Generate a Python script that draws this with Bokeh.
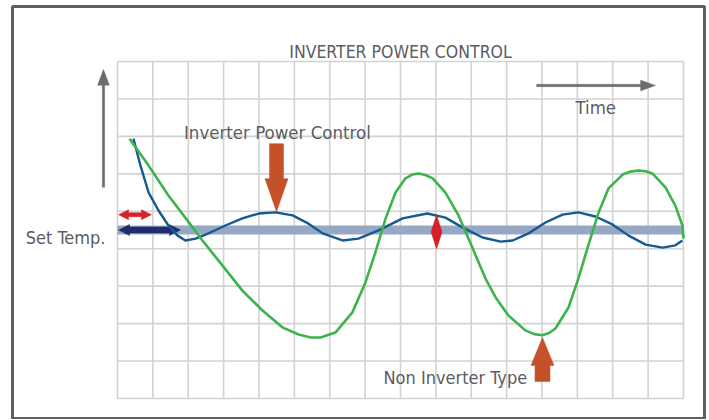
from bokeh.plotting import figure
from bokeh.embed import file_html
from bokeh.resources import INLINE
from bokeh.core.properties import value

# ---------------- data ----------------
grid_cols = list(range(0, 17))      # time grid columns
grid_rows = list(range(0, 10))      # temperature grid rows
set_temp = 4.5                      # set temperature level

inverter_x = [0.45, 0.65, 0.88, 1.16, 1.44, 1.70, 1.92, 2.21, 2.57, 3.05, 3.53, 3.99,
              4.47, 4.95, 5.40, 5.80, 6.36, 6.81, 7.38, 8.06, 8.76, 9.27, 9.75, 10.32,
              10.83, 11.17, 11.62, 12.10, 12.58, 13.03, 13.51, 13.99, 14.45, 14.93,
              15.41, 15.77, 15.97]
inverter_y = [6.94, 6.22, 5.50, 5.02, 4.62, 4.35, 4.22, 4.27, 4.41, 4.62, 4.81, 4.94,
              4.97, 4.89, 4.67, 4.41, 4.22, 4.27, 4.49, 4.81, 4.94, 4.83, 4.57, 4.30,
              4.19, 4.22, 4.41, 4.70, 4.91, 4.97, 4.86, 4.65, 4.35, 4.11,
              4.03, 4.09, 4.22]

non_inverter_x = [0.34, 0.88, 1.44, 1.98, 2.40, 2.97, 3.53, 4.10, 4.66, 5.12, 5.46, 5.74,
                  6.16, 6.64, 7.01, 7.29, 7.58, 7.86, 8.14, 8.33, 8.51, 8.70, 8.91, 9.27,
                  9.64, 10.04, 10.40, 10.69, 11.05, 11.53, 11.78, 12.01, 12.20, 12.38,
                  12.75, 13.03, 13.31, 13.60, 13.88, 14.28, 14.50, 14.73, 14.93, 15.12,
                  15.49, 15.77, 15.97, 16.00]
non_inverter_y = [6.94, 6.22, 5.42, 4.75, 4.22, 3.55, 2.88, 2.35, 1.90, 1.71, 1.63, 1.63,
                  1.76, 2.30, 3.10, 3.90, 4.81, 5.50, 5.88, 5.98, 6.01, 5.97, 5.88, 5.50,
                  4.89, 4.01, 3.21, 2.70, 2.22, 1.82, 1.72, 1.69, 1.75, 1.87,
                  2.43, 3.21, 4.09, 4.97, 5.61, 5.98, 6.06, 6.09, 6.07, 6.01,
                  5.64, 5.15, 4.62, 4.27]

labels = ["INVERTER POWER CONTROL", "Inverter Power Control", "Time",
          "Set Temp.", "Non Inverter Type"]

# ---------------- figure ----------------
X0, X1 = -2.968, 16.594
Y0, Y1 = -0.534, 10.469
FW, FH = 692, 412
SX = FW / (X1 - X0)
SY = FH / (Y1 - Y0)

p = figure(width=706, height=419, x_range=(X0, X1), y_range=(Y0, Y1),
           output_backend="svg", toolbar_location=None,
           x_axis_type=None, y_axis_type=None,
           min_border_left=12, min_border_right=2, min_border_top=6, min_border_bottom=1)
p.outline_line_color = "#5d5f63"
p.outline_line_width = 3
p.background_fill_color = "white"
p.border_fill_color = "white"

FONT = "DejaVu Sans Condensed, Liberation Sans, sans-serif"
TXT = "#5b5d62"
GRAY = "#6b6c70"
ORANGE = "#c5512a"
RED = "#d62128"
NAVY = "#1f2d6c"


def arrow_poly(tx, ty, ux, uy, length, hl, hw, sw):
    px, py = -uy, ux
    pts = [(0, 0),
           (-hl * ux + hw / 2 * px, -hl * uy + hw / 2 * py),
           (-hl * ux + sw / 2 * px, -hl * uy + sw / 2 * py),
           (-length * ux + sw / 2 * px, -length * uy + sw / 2 * py),
           (-length * ux - sw / 2 * px, -length * uy - sw / 2 * py),
           (-hl * ux - sw / 2 * px, -hl * uy - sw / 2 * py),
           (-hl * ux - hw / 2 * px, -hl * uy - hw / 2 * py)]
    return [tx + a / SX for a, b in pts], [ty + b / SY for a, b in pts]


def double_arrow_h(xa, xb, y, hl, hw, sw):
    L = (xb - xa) * SX
    pts = [(0, 0), (hl, hw / 2), (hl, sw / 2), (L - hl, sw / 2), (L - hl, hw / 2), (L, 0),
           (L - hl, -hw / 2), (L - hl, -sw / 2), (hl, -sw / 2), (hl, -hw / 2)]
    return [xa + a / SX for a, b in pts], [y + b / SY for a, b in pts]


def diamond(cx, cy, hw, hh):
    pts = [(0, hh), (hw, 0), (0, -hh), (-hw, 0)]
    return [cx + a / SX for a, b in pts], [cy + b / SY for a, b in pts]


# grid
p.segment(x0=grid_cols, y0=[grid_rows[0]] * len(grid_cols), x1=grid_cols,
          y1=[grid_rows[-1]] * len(grid_cols), line_color="#d2d2d2", line_width=1.6)
p.segment(x0=[grid_cols[0]] * len(grid_rows), y0=grid_rows, x1=[grid_cols[-1]] * len(grid_rows),
          y1=grid_rows, line_color="#d2d2d2", line_width=1.6)

# set temperature band
p.line(x=[grid_cols[0], grid_cols[-1]], y=[set_temp, set_temp], line_width=9,
       line_color="#97a8c5")

# set temperature double arrows
xs, ys = double_arrow_h(0.03, 1.78, set_temp, 11, 11, 6)
p.patch(xs, ys, fill_color=NAVY, line_color=NAVY, line_width=0.5)
xs, ys = double_arrow_h(0.03, 0.96, 4.91, 10, 10, 4)
p.patch(xs, ys, fill_color=RED, line_color=RED, line_width=0.5)

# curves
p.line(inverter_x, inverter_y, line_color="#175a8e", line_width=2.4, line_join="round")
p.line(non_inverter_x, non_inverter_y, line_color="#3cb44b", line_width=2.6, line_join="round")

# red fluctuation diamond
xs, ys = diamond(9.02, 4.45, 5.5, 17)
p.patch(xs, ys, fill_color=RED, line_color=RED, line_width=0.5)

# orange arrows
xs, ys = arrow_poly(4.495, 4.99, 0, -1, 68, 33, 23, 14)
p.patch(xs, ys, fill_color=ORANGE, line_color=ORANGE, line_width=0.5)
xs, ys = arrow_poly(12.014, 1.63, 0, 1, 44, 28, 23, 15)
p.patch(xs, ys, fill_color=ORANGE, line_color=ORANGE, line_width=0.5)

# gray axis arrows
xs, ys = arrow_poly(-0.396, 8.79, 0, 1, 118, 16, 12, 2.5)
p.patch(xs, ys, fill_color=GRAY, line_color=GRAY, line_width=0.3)
xs, ys = arrow_poly(15.21, 8.36, 1, 0, 119, 15, 11, 2.5)
p.patch(xs, ys, fill_color=GRAY, line_color=GRAY, line_width=0.3)

# texts
p.text(x=[8.0], y=[9.267], text=[labels[0]], text_font=value(FONT), text_font_size="17.5px",
       text_color=TXT, text_align="center", text_baseline="alphabetic")
p.text(x=[4.52, 13.52], y=[7.10, 7.77], text=[labels[1], labels[2]], text_font=value(FONT),
       text_font_size="18.5px", text_color=TXT, text_align="center", text_baseline="alphabetic")
p.text(x=[-0.34], y=[4.30], text=[labels[3]], text_font=value(FONT), text_font_size="18px",
       text_color=TXT, text_align="right", text_baseline="alphabetic")
p.text(x=[7.52], y=[0.56], text=[labels[4]], text_font=value(FONT), text_font_size="18px",
       text_color=TXT, text_align="left", text_baseline="alphabetic")

open("out.html", "w").write(file_html(p, INLINE))
